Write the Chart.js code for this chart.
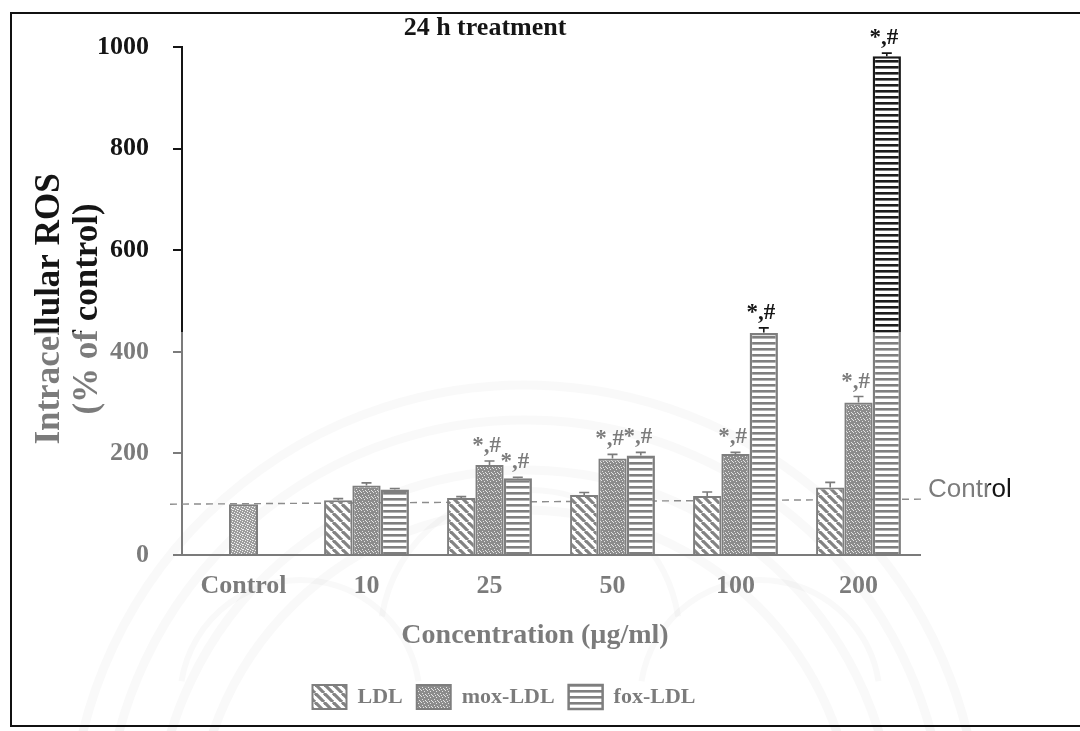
<!DOCTYPE html>
<html>
<head>
<meta charset="utf-8">
<script src="https://cdn.jsdelivr.net/npm/chart.js@4.4.1/dist/chart.umd.min.js"></script>
<style>
  html, body { margin: 0; padding: 0; background: #fff; }
  #wrap { position: relative; width: 1080px; height: 731px; overflow: hidden; background: #fff; }
  #c { position: absolute; left: 0; top: 0; }
  #frame { position: absolute; left: 10px; top: 12px; width: 1120px; height: 715px;
           border: 2px solid #111; box-sizing: border-box; pointer-events: none; }
</style>
</head>
<body>
<div id="wrap">
  <canvas id="c" width="1080" height="731"></canvas>
  <div id="frame"></div>
</div>
<script>
// Intracellular ROS after 24 h, % of untreated control
const categories   = ['Control', '10', '25', '50', '100', '200'];
const controlValues = [100, null, null, null, null, null];
const ldlValues    = [null, 108, 112, 118, 116, 133];
const moxValues    = [null, 137, 177, 190, 199, 300];
const foxValues    = [null, 129, 151, 196, 437, 982];

// standard error bars (upper half only)
const ldlErrors    = [null, 3, 3, 5, 8, 10];
const moxErrors    = [null, 5, 8, 8, 3, 12];
const foxErrors    = [null, 2, 2, 6, 10, 6];

// significance marks (* vs control, # vs native LDL)
const moxMarks     = ['', '', '*,#', '*,#', '*,#', '*,#'];
const foxMarks     = ['', '', '*,#', '*,#', '*,#', '*,#'];

const yTicks       = [0, 200, 400, 600, 800, 1000];
const controlLine  = [100, 110];   // dashed control reference, start and end level

const SERIF = '"Liberation Serif", "Times New Roman", serif';
const INK = '#151515';

function makePattern(w, h, paint) {
  const c = document.createElement('canvas');
  c.width = w; c.height = h;
  const g = c.getContext('2d');
  paint(g, w, h);
  return g.createPattern(c, 'repeat');
}

// diagonal hatching for native LDL
const hatch = makePattern(9, 9, (g, w, h) => {
  g.fillStyle = '#fff'; g.fillRect(0, 0, w, h);
  g.strokeStyle = '#222'; g.lineWidth = 3.2;
  for (const x0 of [-w, 0, w]) {
    g.beginPath(); g.moveTo(x0, 0); g.lineTo(x0 + w, h); g.stroke();
  }
});
// fine stipple for mox-LDL
const stipple = makePattern(6, 6, (g, w, h) => {
  g.fillStyle = '#333'; g.fillRect(0, 0, w, h);
  g.fillStyle = '#cfcfcf';
  [[1,0],[4,1],[2,3],[5,4],[0,5],[3,5]].forEach(([x, y]) => g.fillRect(x, y, 1, 1));
});
// lighter stipple for the control bar
const stippleLight = makePattern(5, 5, (g, w, h) => {
  g.fillStyle = '#505050'; g.fillRect(0, 0, w, h);
  g.fillStyle = '#e8e8e8';
  [[0,0],[2,1],[4,2],[1,3],[3,4],[2,4]].forEach(([x, y]) => g.fillRect(x, y, 1, 1));
});
// horizontal stripes for fox-LDL
const stripes = makePattern(8, 6, (g, w, h) => {
  g.fillStyle = '#fff'; g.fillRect(0, 0, w, h);
  g.fillStyle = '#1c1c1c'; g.fillRect(0, 0, w, 2.6);
});

const errorsByLabel = { 'LDL': ldlErrors, 'mox-LDL': moxErrors, 'fox-LDL': foxErrors };
const marksByLabel = { 'mox-LDL': moxMarks, 'fox-LDL': foxMarks };

const decorations = {
  id: 'decorations',
  beforeDraw(chart) {
    const { ctx } = chart;
    ctx.save();
    ctx.fillStyle = '#fff';
    ctx.fillRect(0, 0, chart.width, chart.height);
    // faint emblem rings in the background
    ctx.strokeStyle = 'rgba(0,0,0,0.045)';
    ctx.lineWidth = 9;
    [455, 420, 370, 330].forEach(r => {
      ctx.beginPath(); ctx.arc(525, 840, r, Math.PI * 1.02, Math.PI * 1.98); ctx.stroke();
    });
    ctx.lineWidth = 6;
    [[300, 700, 120], [760, 700, 120], [530, 640, 150]].forEach(([x, y, r]) => {
      ctx.beginPath(); ctx.arc(x, y, r, Math.PI * 1.05, Math.PI * 1.95); ctx.stroke();
    });
    ctx.restore();
  },
  beforeDatasetsDraw(chart) {
    const { ctx, chartArea } = chart;
    const y = chart.scales.y;
    const x0 = chartArea.left - 12, x1 = chartArea.right + 6;
    ctx.save();
    ctx.strokeStyle = '#333';
    ctx.lineWidth = 1.4;
    ctx.setLineDash([7, 5]);
    ctx.beginPath();
    ctx.moveTo(x0, y.getPixelForValue(controlLine[0]));
    ctx.lineTo(x1, y.getPixelForValue(controlLine[1]));
    ctx.stroke();
    ctx.setLineDash([]);
    ctx.fillStyle = INK;
    ctx.font = '26px "Liberation Sans", Arial, sans-serif';
    ctx.textAlign = 'left';
    ctx.textBaseline = 'alphabetic';
    ctx.fillText('Control', x1 + 2, y.getPixelForValue(controlLine[1]) - 2);
    ctx.restore();
  },
  afterDatasetsDraw(chart) {
    const { ctx } = chart;
    const y = chart.scales.y;
    ctx.save();
    chart.data.datasets.forEach((ds, di) => {
      const meta = chart.getDatasetMeta(di);
      const errs = errorsByLabel[ds.label];
      const marks = marksByLabel[ds.label];
      meta.data.forEach((bar, i) => {
        const v = ds.data[i];
        if (v == null) return;
        let top = y.getPixelForValue(v);
        if (errs && errs[i]) {
          const ye = y.getPixelForValue(v + errs[i]);
          ctx.strokeStyle = INK;
          ctx.lineWidth = 1.6;
          ctx.beginPath();
          ctx.moveTo(bar.x, top); ctx.lineTo(bar.x, ye);
          ctx.moveTo(bar.x - 5, ye); ctx.lineTo(bar.x + 5, ye);
          ctx.stroke();
          top = ye;
        }
        if (marks && marks[i]) {
          ctx.fillStyle = INK;
          ctx.font = 'bold 23px ' + SERIF;
          ctx.textAlign = 'center';
          ctx.textBaseline = 'alphabetic';
          ctx.fillText(marks[i], bar.x - 3, top - 9);
        }
      });
    });
    ctx.restore();
  },
  afterDraw(chart) {
    const { ctx, chartArea } = chart;
    ctx.save();
    ctx.fillStyle = INK;
    ctx.textAlign = 'center';
    ctx.textBaseline = 'middle';
    // heading
    ctx.font = 'bold 26px ' + SERIF;
    ctx.fillText('24 h treatment', 485, 28);
    // x-axis title
    ctx.font = 'bold 28px ' + SERIF;
    ctx.fillText('Concentration (\u00b5g/ml)', 535, 636);
    // y-axis title, two lines
    const midY = (chartArea.top + chartArea.bottom) / 2 + 8;
    ctx.font = 'bold 35px ' + SERIF;
    ctx.translate(50, midY);
    ctx.rotate(-Math.PI / 2);
    ctx.fillText('Intracellular ROS', 0, 0);
    ctx.fillText('(% of control)', 0, 38);
    ctx.restore();

    // lower part of the page is printed in grey
    ctx.save();
    ctx.fillStyle = 'rgba(255,255,255,0.44)';
    ctx.fillRect(12, 332, 975, 394);
    ctx.restore();
  }
};

new Chart(document.getElementById('c'), {
  type: 'bar',
  data: {
    labels: categories,
    datasets: [
      { label: 'Control', data: controlValues, backgroundColor: stippleLight,
        borderColor: '#1a1a1a', borderWidth: 2 },
      { label: 'LDL', data: ldlValues, backgroundColor: hatch,
        borderColor: '#1a1a1a', borderWidth: 2 },
      { label: 'mox-LDL', data: moxValues, backgroundColor: stipple,
        borderColor: '#1a1a1a', borderWidth: 2 },
      { label: 'fox-LDL', data: foxValues, backgroundColor: stripes,
        borderColor: '#1a1a1a', borderWidth: 2.5 }
    ]
  },
  options: {
    responsive: false,
    animation: false,
    devicePixelRatio: 1,
    skipNull: true,
    categoryPercentage: 0.69,
    barPercentage: 1.0,
    maxBarThickness: 29,
    layout: { padding: { left: 88, right: 160, top: 47, bottom: 12 } },
    plugins: {
      title: { display: false },
      tooltip: { enabled: false },
      legend: {
        position: 'bottom',
        labels: {
          filter: item => item.text !== 'Control',
          boxWidth: 34, boxHeight: 24, padding: 14,
          color: INK,
          font: { family: SERIF, size: 22, weight: 'bold' }
        }
      }
    },
    scales: {
      x: {
        afterFit: s => { s.height = 116; },
        grid: { display: false, drawTicks: false },
        border: { display: true, color: INK, width: 2 },
        ticks: { color: INK, padding: 16, font: { family: SERIF, size: 26, weight: 'bold' } }
      },
      y: {
        min: 0, max: 1000,
        afterFit: s => { s.width = 94; },
        afterBuildTicks: s => { s.ticks = yTicks.map(v => ({ value: v })); },
        grid: { display: true, drawOnChartArea: false, drawTicks: true, tickLength: 9,
                color: INK, lineWidth: 2 },
        border: { display: true, color: INK, width: 2 },
        ticks: { color: INK, padding: 24, callback: v => String(v),
                 font: { family: SERIF, size: 26, weight: 'bold' } }
      }
    }
  },
  plugins: [decorations]
});
</script>
</body>
</html>
